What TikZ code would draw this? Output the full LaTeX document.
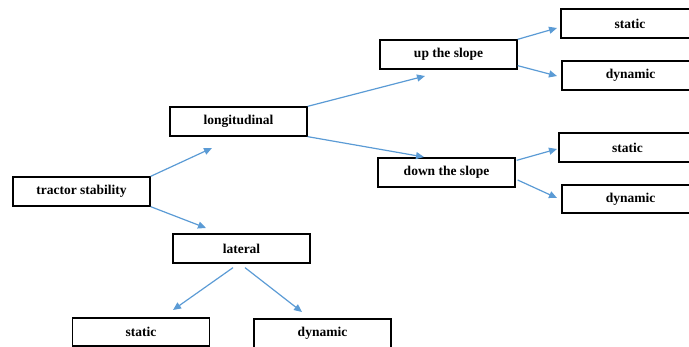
\documentclass[tikz,border=0pt]{standalone}
\usepackage{fontspec}
\setmainfont{Liberation Serif}
\usetikzlibrary{arrows.meta,calc}
\definecolor{arrblue}{HTML}{5B9BD5}
\begin{document}
\begin{tikzpicture}[x=1pt,y=-1pt,
  box/.style={draw=black,line width=1.3pt,minimum width=137pt,minimum height=29pt,inner sep=0pt,
    font=\fontsize{13.5}{16}\selectfont\bfseries},
  arr/.style={draw=arrblue,line width=1.2pt,-{Triangle[length=8pt,width=7pt]}}]
\useasboundingbox (0,0) rectangle (689,347);
\begin{scope}
\clip (0,0) rectangle (689,347);
\node[box] (ts) at (81.5,191.5) {tractor stability};
\node[box] (long) at (238.5,121.5) {longitudinal};
\node[box] (lat) at (241.5,248.5) {lateral};
\node[box] (up) at (448.5,54.5) {up the slope};
\node[box] (down) at (446.5,172.5) {down the slope};
\node[box,minimum width=138pt] (s1) at (630,23.5) {static};
\node[box] (d1) at (630.5,75.5) {dynamic};
\node[box] (s2) at (627.5,147.5) {static};
\node[box,minimum height=28pt] (d2) at (630.5,199) {dynamic};
\node[box,minimum height=28pt] (s3) at (141,332) {static};
\node[box] (d3) at (322.5,333.5) {dynamic};
\end{scope}
\coordinate (e1) at (212,148);
\coordinate (e2) at (206,228);
\coordinate (e3) at (425,76);
\coordinate (e4) at (424,157);
\coordinate (e5) at (557,28);
\coordinate (e6) at (557,76);
\coordinate (e7) at (557,149);
\coordinate (e8) at (557,198);
\coordinate (e9) at (173,310);
\coordinate (e10) at (302,312);
\draw[arr] (ts.north east) -- (e1);
\draw[arr] (ts.south east) -- (e2);
\draw[arr] (long.north east) -- (e3);
\draw[arr] (long.south east) -- (e4);
\draw[arr] (up.north east) -- (e5);
\draw[arr] ([yshift=4pt]up.south east) -- (e6);
\draw[arr] ([xshift=1pt,yshift=-3pt]down.north east) -- (e7);
\draw[arr] ([xshift=2pt,yshift=-7.5pt]down.east) -- (e8);
\draw[arr] ([xshift=-8.5pt,yshift=-4pt]lat.south) -- (e9);
\draw[arr] ([xshift=3.5pt,yshift=-4pt]lat.south) -- (e10);
\end{tikzpicture}
\end{document}
